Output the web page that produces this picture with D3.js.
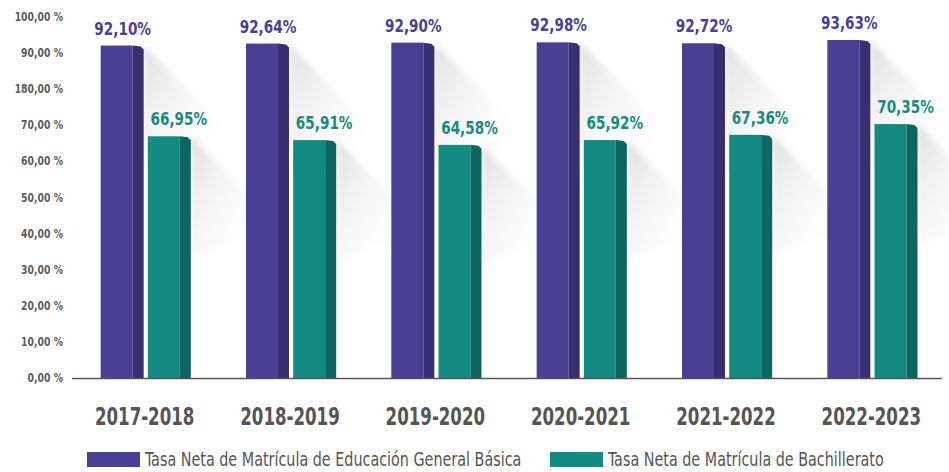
<!DOCTYPE html>
<html>
<head>
<meta charset="utf-8">
<script src="https://cdn.jsdelivr.net/npm/d3@7"></script>
<style>
  html, body { margin: 0; padding: 0; background: #fff; }
  svg { display: block; }
  text { font-family: "DejaVu Sans Condensed", "DejaVu Sans", sans-serif; font-stretch: condensed; }
</style>
</head>
<body>
<svg id="chart" width="949" height="472"></svg>
<script>
// School years and enrolment rates (%)
const years = ["2017-2018", "2018-2019", "2019-2020", "2020-2021", "2021-2022", "2022-2023"];
const basica = [92.10, 92.64, 92.90, 92.98, 92.72, 93.63];
const bachillerato = [66.95, 65.91, 64.58, 65.92, 67.36, 70.35];
const seriesNames = ["Tasa Neta de Matrícula de Educación General Básica", "Tasa Neta de Matrícula de Bachillerato"];
const tickValues = [0, 10, 20, 30, 40, 50, 60, 70, 80, 90, 100];
const tickLabels = ["0,00 %", "10,00 %", "20,00 %", "30,00 %", "40,00 %", "50,00 %", "60,00 %", "70,00 %", "180,00 %", "90,00 %", "100,00 %"];

const svg = d3.select("#chart");
const baseY = 378;

const y = d3.scaleLinear().domain([0, 100]).range([baseY, 17]);
const x0 = d3.scaleBand().domain(years).range([73, 945]).paddingInner(0).paddingOuter(0);
const x1 = d3.scaleBand().domain([0, 1]).range([0, 92]).paddingInner(0.05);

const fronts = ["#4a3f92", "#138b82"];
const sides = ["#392f70", "#0d6761"];
const labelColors = ["#4b4090", "#178a80"];
const barFront = 32, barSide = 11;

// Narrow lettering: text drawn inside a group squeezed horizontally
function narrowText(sel, x, yPos, sx) {
  const g = sel.append("g").attr("transform", `translate(${x},${yPos}) scale(${sx},1)`);
  return g.append("text").attr("x", 0).attr("y", 0);
}

const defs = svg.append("defs");
const grad = defs.append("linearGradient").attr("id", "shade")
  .attr("x1", "0").attr("y1", "0").attr("x2", "1").attr("y2", "1");
grad.append("stop").attr("offset", "0").attr("stop-color", "#d2d2d2").attr("stop-opacity", 0.7);
grad.append("stop").attr("offset", "0.5").attr("stop-color", "#e6e6e6").attr("stop-opacity", 0.3);
grad.append("stop").attr("offset", "1").attr("stop-color", "#ffffff").attr("stop-opacity", 0);
const blur = defs.append("filter").attr("id", "soft").attr("x", "-20%").attr("y", "-20%").attr("width", "140%").attr("height", "140%");
blur.append("feGaussianBlur").attr("stdDeviation", 3);

// Y axis tick labels
const yAxis = svg.append("g");
tickValues.forEach((d, i) => {
  narrowText(yAxis, 63, y(d) + 4, 0.86)
    .attr("text-anchor", "end").attr("font-size", 12).attr("font-weight", "bold")
    .attr("fill", "#5a5a5a").text(tickLabels[i]);
});

const seriesData = [basica, bachillerato];
const groups = svg.append("g").selectAll("g").data(years).join("g")
  .attr("transform", d => `translate(${x0(d) + (x0.bandwidth() - 92) / 2 + 1},0)`);

groups.each(function (yr, gi) {
  const g = d3.select(this);
  [0, 1].forEach(si => {
    const v = seriesData[si][gi];
    const left = x1(si);
    const top = y(v);
    const xr = left + barFront + barSide;
    const L = si === 0 ? 80 : 70;
    // long shadow cast down-right
    g.append("polygon")
      .attr("points", [[xr, top], [xr + L, top + L], [xr + L, top + L + 30], [xr, top + L + 50]].map(p => p.join(",")).join(" "))
      .attr("fill", "url(#shade)").attr("filter", "url(#soft)");
    // front face
    g.append("rect").attr("x", left).attr("y", top).attr("width", barFront).attr("height", baseY - top)
      .attr("fill", fronts[si]);
    // side face
    g.append("polygon")
      .attr("points", [[left + barFront, top], [xr - 3, top + 1], [xr, top + 4], [xr, baseY], [left + barFront, baseY]].map(p => p.join(",")).join(" "))
      .attr("fill", sides[si]);
    // value label
    narrowText(g, left + barFront / 2 + (si === 0 ? 6 : 15), top - 11, 0.84)
      .attr("text-anchor", "middle")
      .attr("font-size", 18).attr("font-weight", "bold")
      .attr("fill", labelColors[si])
      .text(v.toFixed(2).replace(".", ",") + "%");
  });
});

// Baseline
svg.append("line").attr("x1", 72).attr("x2", 942).attr("y1", baseY + 0.5).attr("y2", baseY + 0.5)
  .attr("stroke", "#555").attr("stroke-width", 1.5);

// Category labels
const xAxis = svg.append("g");
years.forEach(d => {
  narrowText(xAxis, x0(d) + x0.bandwidth() / 2 - 1, 425, 0.74)
    .attr("text-anchor", "middle")
    .attr("font-size", 25).attr("font-weight", "bold")
    .attr("fill", "#555").text(d);
});

// Legend
const legendX = [87, 550];
const legend = svg.append("g").selectAll("g").data(seriesNames).join("g")
  .attr("transform", (d, i) => `translate(${legendX[i]},452)`);
legend.append("rect").attr("width", 53).attr("height", 15).attr("fill", (d, i) => fronts[i]);
legend.each(function (d) {
  narrowText(d3.select(this), 58, 14, 0.84)
    .attr("font-size", 19).attr("fill", "#555").text(d);
});
</script>
</body>
</html>
